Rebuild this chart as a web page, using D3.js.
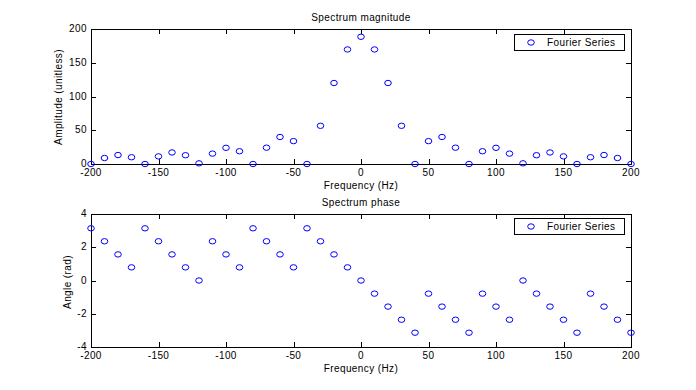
<!DOCTYPE html>
<html><head><meta charset="utf-8">
<script src="https://cdn.jsdelivr.net/npm/d3@7"></script>
<style>
body{margin:0;background:#fff;}
text{font-family:"Liberation Sans",Arial,sans-serif;font-size:10px;fill:#000;letter-spacing:0.4px;}
</style></head><body>
<svg id="c" width="696" height="390"></svg>
<script>
const freq = [-200,-190,-180,-170,-160,-150,-140,-130,-120,-110,-100,-90,-80,-70,-60,-50,-40,-30,-20,-10,0,10,20,30,40,50,60,70,80,90,100,110,120,130,140,150,160,170,180,190,200];
const magnitude = [0,8.9,13.3,10.0,0,11.3,17.1,13.0,1,15.4,24.0,18.9,0,24.2,40.0,33.9,0,56.6,120.0,169.7,188.5,169.7,120.0,56.6,0,33.9,40.0,24.2,0,18.9,24.0,15.4,1,13.0,17.1,11.3,0,10.0,13.3,8.9,0];
const phase = [3.14,2.36,1.57,0.79,3.14,2.36,1.57,0.79,0,2.36,1.57,0.79,3.14,2.36,1.57,0.79,3.14,2.36,1.57,0.79,0,-0.79,-1.57,-2.36,-3.14,-0.79,-1.57,-2.36,-3.14,-0.79,-1.57,-2.36,0,-0.79,-1.57,-2.36,-3.14,-0.79,-1.57,-2.36,-3.14];
const xTicks = [-200,-150,-100,-50,0,50,100,150,200];
const magTicks = [0,50,100,150,200];
const phaseTicks = [-4,-2,0,2,4];
const legendLabel = "Fourier Series";

const svg = d3.select("#c");
const L = 91, R = 631;

function panel(top, bottom, yDomain, yTicks, values, title) {
  const x = d3.scaleLinear().domain([-200,200]).range([L,R]);
  const y = d3.scaleLinear().domain(yDomain).range([bottom,top]);
  const g = svg.append("g");
  g.append("rect").attr("x",L+0.5).attr("y",top+0.5).attr("width",R-L).attr("height",bottom-top)
    .attr("fill","#fff").attr("stroke","#000").attr("stroke-width",1);
  const tl = 5;
  xTicks.forEach(t=>{
    const px = Math.round(x(t))+0.5;
    g.append("line").attr("x1",px).attr("x2",px).attr("y1",bottom).attr("y2",bottom-tl).attr("stroke","#000");
    g.append("line").attr("x1",px).attr("x2",px).attr("y1",top).attr("y2",top+tl).attr("stroke","#000");
    g.append("text").attr("x",x(t)).attr("y",bottom+12).attr("text-anchor","middle").text(t);
  });
  yTicks.forEach(t=>{
    const py = Math.round(y(t))+0.5;
    g.append("line").attr("x1",L).attr("x2",L+tl).attr("y1",py).attr("y2",py).attr("stroke","#000");
    g.append("line").attr("x1",R).attr("x2",R-tl).attr("y1",py).attr("y2",py).attr("stroke","#000");
    g.append("text").attr("x",L-4).attr("y",y(t)+3).attr("text-anchor","end").text(t);
  });
  g.selectAll("ellipse.m").data(freq).enter().append("ellipse")
    .attr("cx",(d,i)=>x(d)).attr("cy",(d,i)=>y(values[i]))
    .attr("rx",3.3).attr("ry",2.7).attr("fill","none").attr("stroke","#0000ff").attr("stroke-width",1);
  g.append("text").attr("x",(L+R)/2).attr("y",top-8).attr("text-anchor","middle").text(title);
  g.append("text").attr("x",(L+R)/2).attr("y",bottom+25).attr("text-anchor","middle").text("Frequency (Hz)");
  return {g,x,y};
}

panel(29, 164, [0,200], magTicks, magnitude, "Spectrum magnitude");
svg.append("text").attr("transform","translate(62,97) rotate(-90)").attr("text-anchor","middle").text("Amplitude (unitless)");
panel(214, 347, [-4,4], phaseTicks, phase, "Spectrum phase");
svg.append("text").attr("transform","translate(71,282) rotate(-90)").attr("text-anchor","middle").text("Angle (rad)");

function legend(top) {
  svg.append("rect").attr("x",514.5).attr("y",top+0.5).attr("width",110).attr("height",16)
    .attr("fill","#fff").attr("stroke","#000");
  svg.append("ellipse").attr("cx",531).attr("cy",top+8.5).attr("rx",3.3).attr("ry",2.7)
    .attr("fill","none").attr("stroke","#0000ff");
  svg.append("text").attr("x",547).attr("y",top+12).text(legendLabel);
}
legend(34);
legend(218);
</script></body></html>
